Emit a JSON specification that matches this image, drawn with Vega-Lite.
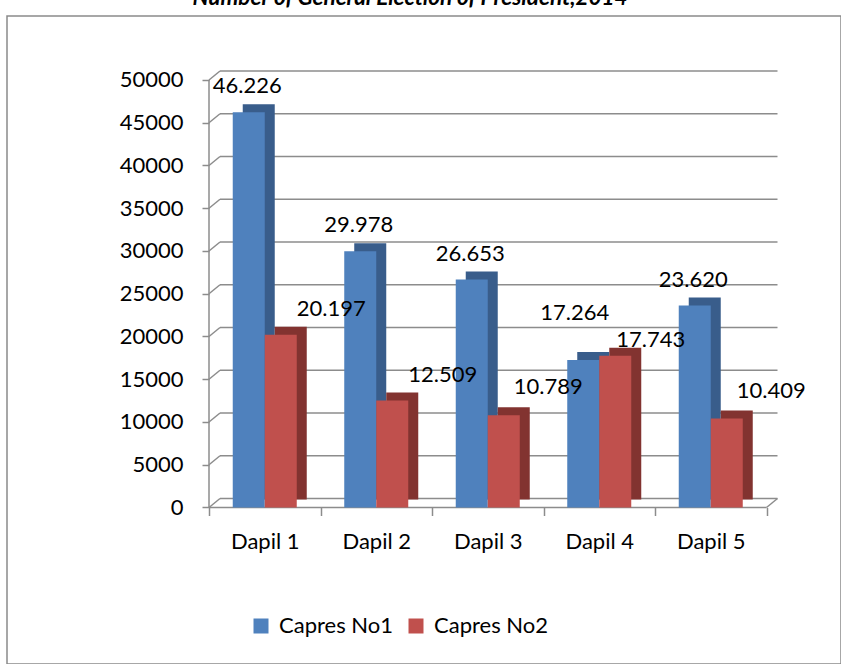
{
  "$schema": "https://vega.github.io/schema/vega-lite/v6.json",
  "width": 834,
  "height": 648,
  "autosize": {"type": "none"},
  "padding": {"left": 7, "top": 16, "right": 0, "bottom": 0},
  "background": "white",
  "config": {
    "view": {"stroke": "#8a8a8a", "strokeWidth": 1.5},
    "font": "Lato",
    "locale": {"number": {"decimal": ",", "thousands": ".", "grouping": [3], "currency": ["", ""]}}
  },
  "title": {
    "text": "Number of General Election of President,2014",
    "font": "Lato",
    "fontSize": 22.5,
    "fontStyle": "italic",
    "fontWeight": "bold",
    "color": "black",
    "anchor": "middle",
    "frame": "group",
    "baseline": "alphabetic",
    "offset": 0,
    "dy": 11,
    "dx": -14
  },
  "datasets": {
    "votes": [
      {"cat": "Dapil 1", "series": "Capres No1", "value": 46226},
      {"cat": "Dapil 2", "series": "Capres No1", "value": 29978},
      {"cat": "Dapil 3", "series": "Capres No1", "value": 26653},
      {"cat": "Dapil 4", "series": "Capres No1", "value": 17264},
      {"cat": "Dapil 5", "series": "Capres No1", "value": 23620},
      {"cat": "Dapil 1", "series": "Capres No2", "value": 20197},
      {"cat": "Dapil 2", "series": "Capres No2", "value": 12509},
      {"cat": "Dapil 3", "series": "Capres No2", "value": 10789},
      {"cat": "Dapil 4", "series": "Capres No2", "value": 17743},
      {"cat": "Dapil 5", "series": "Capres No2", "value": 10409}
    ],
    "ticks": [
      {"v": 0}, {"v": 5000}, {"v": 10000}, {"v": 15000}, {"v": 20000}, {"v": 25000},
      {"v": 30000}, {"v": 35000}, {"v": 40000}, {"v": 45000}, {"v": 50000}
    ],
    "one": [{"v": 0}]
  },
  "resolve": {"scale": {"xOffset": "independent"}},
  "layer": [
    {
      "data": {"name": "ticks"},
      "mark": {"type": "rule", "color": "#8c8c8c", "strokeWidth": 1.5, "xOffset": 11, "x2Offset": 11, "yOffset": -9},
      "encoding": {
        "x": {"datum": "Dapil 1", "type": "nominal", "bandPosition": 0,
              "scale": {"domain": ["Dapil 1", "Dapil 2", "Dapil 3", "Dapil 4", "Dapil 5"], "paddingInner": 0, "paddingOuter": 0, "range": [202, 759.5]},
              "axis": {"orient": "bottom", "offset": -156.5, "title": null, "domain": false, "grid": false, "tickBand": "extent", "tickSize": 8, "tickColor": "#8c8c8c", "tickWidth": 1.5, "labelFontSize": 22, "labelColor": "black", "labelFont": "Lato", "labelBaseline": "alphabetic", "labelPadding": 33, "labelAngle": 0}},
        "x2": {"datum": "Dapil 5", "bandPosition": 1},
        "y": {"field": "v", "type": "quantitative",
              "scale": {"domain": [-18304, 57485], "nice": false, "zero": false},
              "axis": {"orient": "left", "offset": -202, "title": null, "values": [0, 5000, 10000, 15000, 20000, 25000, 30000, 35000, 40000, 45000, 50000], "format": "d", "domain": false, "grid": false, "tickSize": 7, "tickColor": "#8c8c8c", "tickWidth": 1.5, "labelFontSize": 22, "labelColor": "black", "labelFont": "Lato", "labelPadding": 19}}
      }
    },
    {
      "data": {"name": "ticks"},
      "mark": {"type": "rule", "color": "#8c8c8c", "strokeWidth": 1.5, "x2Offset": 11, "y2Offset": -9},
      "encoding": {
        "x": {"datum": "Dapil 1", "type": "nominal", "bandPosition": 0},
        "x2": {"datum": "Dapil 1", "bandPosition": 0},
        "y": {"field": "v", "type": "quantitative"},
        "y2": {"field": "v"}
      }
    },
    {
      "data": {"name": "one"},
      "mark": {"type": "rule", "color": "#8c8c8c", "strokeWidth": 1.5, "x2Offset": 11, "y2Offset": -9},
      "encoding": {
        "x": {"datum": "Dapil 5", "type": "nominal", "bandPosition": 1},
        "x2": {"datum": "Dapil 5", "bandPosition": 1},
        "y": {"field": "v", "type": "quantitative"},
        "y2": {"field": "v"}
      }
    },
    {
      "data": {"name": "one"},
      "mark": {"type": "rule", "color": "#8c8c8c", "strokeWidth": 1.5},
      "encoding": {
        "x": {"datum": "Dapil 1", "type": "nominal", "bandPosition": 0},
        "x2": {"datum": "Dapil 5", "bandPosition": 1},
        "y": {"field": "v", "type": "quantitative"}
      }
    },
    {
      "data": {"name": "one"},
      "mark": {"type": "rule", "color": "#8c8c8c", "strokeWidth": 1.5},
      "encoding": {
        "x": {"datum": "Dapil 1", "type": "nominal", "bandPosition": 0},
        "y": {"datum": 0, "type": "quantitative"},
        "y2": {"datum": 50000}
      }
    },
    {
      "data": {"name": "votes"},
      "mark": {"type": "bar", "yOffset": -8, "y2Offset": -8},
      "encoding": {
        "x": {"field": "cat", "type": "nominal"},
        "xOffset": {"field": "series", "type": "nominal", "scale": {"domain": ["Capres No1", "Capres No2"], "paddingInner": 0, "paddingOuter": 0.742, "align": 0.7105}},
        "y": {"field": "value", "type": "quantitative"},
        "y2": {"datum": 0},
        "color": {"condition": {"test": "datum.series === 'Capres No1'", "value": "#395d8b"}, "value": "#823330"}
      }
    },
    {
      "data": {"name": "votes"},
      "mark": {"type": "bar"},
      "encoding": {
        "x": {"field": "cat", "type": "nominal"},
        "xOffset": {"field": "series", "type": "nominal", "scale": {"domain": ["Capres No1", "Capres No2"], "paddingInner": 0, "paddingOuter": 0.742}},
        "y": {"field": "value", "type": "quantitative"},
        "y2": {"datum": 0},
        "color": {"field": "series", "type": "nominal",
                  "scale": {"domain": ["Capres No1", "Capres No2"], "range": ["#4f81bd", "#c0504d"]},
                  "legend": {"title": null, "orient": "none", "legendX": 243, "legendY": 599, "direction": "horizontal", "symbolType": "square", "symbolSize": 225, "symbolStrokeWidth": 0, "labelFontSize": 22, "labelFont": "Lato", "labelColor": "black", "labelOffset": 7, "columnPadding": 12}}
      }
    },
    {
      "data": {"name": "votes"},
      "transform": [{"filter": "datum.series === 'Capres No1' && datum.cat !== 'Dapil 4'"}],
      "mark": {"type": "text", "fontSize": 22, "font": "Lato", "color": "black", "baseline": "alphabetic", "align": "center", "dx": 5, "dy": -19},
      "encoding": {
        "x": {"field": "cat", "type": "nominal"},
        "xOffset": {"field": "series", "type": "nominal", "scale": {"domain": ["Capres No1", "Capres No2"], "paddingInner": 0, "paddingOuter": 0.742}},
        "y": {"field": "value", "type": "quantitative"},
        "text": {"field": "value", "type": "quantitative", "format": ",d"}
      }
    },
    {
      "data": {"name": "votes"},
      "transform": [{"filter": "datum.series === 'Capres No1' && datum.cat === 'Dapil 4'"}],
      "mark": {"type": "text", "fontSize": 22, "font": "Lato", "color": "black", "baseline": "alphabetic", "align": "center", "dx": -2, "dy": -40},
      "encoding": {
        "x": {"field": "cat", "type": "nominal"},
        "xOffset": {"field": "series", "type": "nominal", "scale": {"domain": ["Capres No1", "Capres No2"], "paddingInner": 0, "paddingOuter": 0.742}},
        "y": {"field": "value", "type": "quantitative"},
        "text": {"field": "value", "type": "quantitative", "format": ",d"}
      }
    },
    {
      "data": {"name": "votes"},
      "transform": [{"filter": "datum.series === 'Capres No2' && (datum.cat === 'Dapil 1' || datum.cat === 'Dapil 2')"}],
      "mark": {"type": "text", "fontSize": 22, "font": "Lato", "color": "black", "baseline": "alphabetic", "align": "center", "dx": 44, "dy": -19},
      "encoding": {
        "x": {"field": "cat", "type": "nominal"},
        "xOffset": {"field": "series", "type": "nominal", "scale": {"domain": ["Capres No1", "Capres No2"], "paddingInner": 0, "paddingOuter": 0.742}},
        "y": {"field": "value", "type": "quantitative"},
        "text": {"field": "value", "type": "quantitative", "format": ",d"}
      }
    },
    {
      "data": {"name": "votes"},
      "transform": [{"filter": "datum.series === 'Capres No2' && (datum.cat === 'Dapil 3' || datum.cat === 'Dapil 5')"}],
      "mark": {"type": "text", "fontSize": 22, "font": "Lato", "color": "black", "baseline": "alphabetic", "align": "center", "dx": 38, "dy": -21},
      "encoding": {
        "x": {"field": "cat", "type": "nominal"},
        "xOffset": {"field": "series", "type": "nominal", "scale": {"domain": ["Capres No1", "Capres No2"], "paddingInner": 0, "paddingOuter": 0.742}},
        "y": {"field": "value", "type": "quantitative"},
        "text": {"field": "value", "type": "quantitative", "format": ",d"}
      }
    },
    {
      "data": {"name": "votes"},
      "transform": [{"filter": "datum.series === 'Capres No2' && datum.cat === 'Dapil 4'"}],
      "mark": {"type": "text", "fontSize": 22, "font": "Lato", "color": "black", "baseline": "alphabetic", "align": "center", "dx": 29, "dy": -9},
      "encoding": {
        "x": {"field": "cat", "type": "nominal"},
        "xOffset": {"field": "series", "type": "nominal", "scale": {"domain": ["Capres No1", "Capres No2"], "paddingInner": 0, "paddingOuter": 0.742}},
        "y": {"field": "value", "type": "quantitative"},
        "text": {"field": "value", "type": "quantitative", "format": ",d"}
      }
    }
  ]
}
